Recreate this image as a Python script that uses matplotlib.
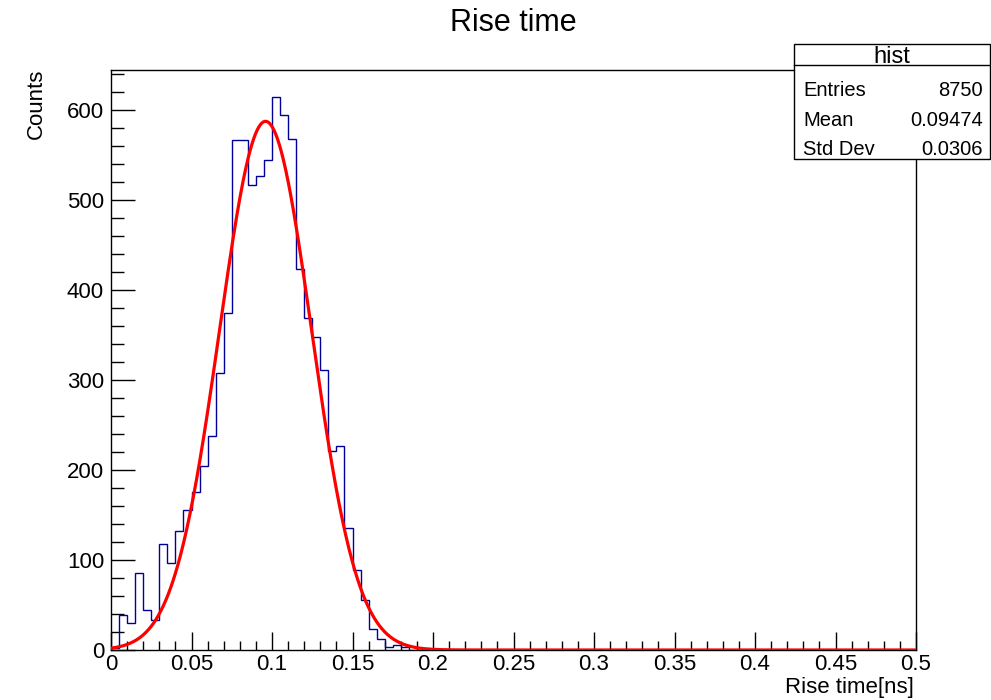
import numpy as np
import matplotlib
matplotlib.use("Agg")
import matplotlib.pyplot as plt
from matplotlib.ticker import MultipleLocator, FuncFormatter
from matplotlib.patches import Rectangle
from matplotlib.lines import Line2D

plt.rcParams['font.family'] = ['Liberation Sans', 'DejaVu Sans']

# ---- data ----
x_min, x_max, n_bins = 0.0, 0.5, 100
bin_counts_nonzero = [2, 39, 30, 86, 44, 33, 118, 97, 132, 155, 175, 204, 238, 308,
                      374, 566, 566, 516, 526, 544, 614, 594, 567, 423, 369, 347, 311,
                      221, 226, 135, 89, 56, 23, 12, 3, 5, 3]
counts = bin_counts_nonzero + [0] * (n_bins - len(bin_counts_nonzero))
fit_constant = 587.0
fit_mean = 0.0960
fit_sigma = 0.0285
stats_title = "hist"
stats_names = ["Entries", "Mean", "Std Dev"]
stats_values = ["8750", "0.09474", "0.0306"]
title = "Rise time"
xlabel = "Rise time[ns]"
ylabel = "Counts"
y_max = 644

W, H = 991, 700
fig = plt.figure(figsize=(W / 100, H / 100), dpi=100)
L, R, T, B = 111, 916, 70, 650
ax = fig.add_axes([L / W, 1 - B / H, (R - L) / W, (B - T) / H])

edges = np.linspace(x_min, x_max, n_bins + 1)
ax.stairs(counts, edges, color=(0, 0, 0.6), lw=1.0, zorder=2)

xf = np.linspace(x_min, x_max, 1000)
yf = fit_constant * np.exp(-0.5 * ((xf - fit_mean) / fit_sigma) ** 2)
ax.plot(xf, yf, color='red', lw=2.3, zorder=3)

ax.set_xlim(x_min, x_max)
ax.set_ylim(0, y_max)
ax.xaxis.set_major_locator(MultipleLocator(0.05))
ax.xaxis.set_minor_locator(MultipleLocator(0.01))
ax.yaxis.set_major_locator(MultipleLocator(100))
ax.yaxis.set_minor_locator(MultipleLocator(20))
ax.xaxis.set_major_formatter(FuncFormatter(lambda v, p: ('%g' % round(v, 4))))
ax.yaxis.set_major_formatter(FuncFormatter(lambda v, p: ('%d' % round(v))))

ax.tick_params(axis='both', which='both', direction='in', top=False, right=False,
               labelsize=16, width=1, color='black')
ax.tick_params(axis='x', which='major', length=13, pad=3)
ax.tick_params(axis='x', which='minor', length=6.5)
ax.tick_params(axis='y', which='major', length=17.3, pad=5)
ax.tick_params(axis='y', which='minor', length=9.4)
for s in ax.spines.values():
    s.set_linewidth(1.0)

# titles
fig.text((L + R) / 2 / W, 1 - 23 / H, title, ha='center', va='center', fontsize=22)
fig.text(914 / W, 1 - 688 / H, xlabel, ha='right', va='center', fontsize=16)
fig.text(36 / W, 1 - 69 / H, ylabel, ha='center', va='top', rotation=90, fontsize=16)

# stats box
bx0, bx1, by0, by1, bh = 794, 990, 44, 159, 65
fig.patches.append(Rectangle((bx0 / W, 1 - by1 / H), (bx1 - bx0) / W, (by1 - by0) / H,
                             transform=fig.transFigure, facecolor='white',
                             edgecolor='black', lw=1.0, zorder=10))
fig.lines.append(Line2D([bx0 / W, bx1 / W], [1 - bh / H, 1 - bh / H],
                        transform=fig.transFigure, color='black', lw=1.0, zorder=11))
fig.text((bx0 + bx1) / 2 / W, 1 - 63 / H, stats_title, ha='center', va='baseline',
         fontsize=17, zorder=12)
row_baselines = [96, 126, 155]
for name, val, yb in zip(stats_names, stats_values, row_baselines):
    fig.text(803 / W, 1 - yb / H, name, ha='left', va='baseline', fontsize=14.5, zorder=12)
    fig.text(983 / W, 1 - yb / H, val, ha='right', va='baseline', fontsize=14.5, zorder=12)

fig.savefig("out.png", dpi=100)
